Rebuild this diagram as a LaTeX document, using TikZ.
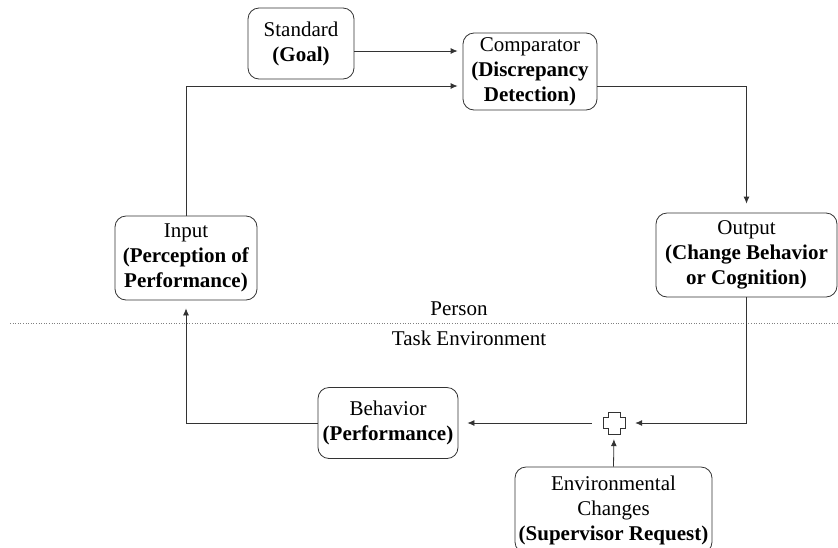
\documentclass[tikz,border=0pt]{standalone}
\usepackage{fontspec}
\setmainfont{Liberation Serif}
\usetikzlibrary{arrows.meta}

\begin{document}
\begin{tikzpicture}[x=1pt, y=-1pt,
    block/.style = {draw=black!80, line width=0.8pt, rounded corners=11pt, align=center, inner sep=1pt, font=\fontsize{21}{25}\selectfont},
    conn/.style = {draw=black!80, line width=0.8pt, -{Latex[length=7pt,width=6pt]}},
    lbl/.style = {font=\fontsize{21}{25}\selectfont}]
     \useasboundingbox (0,0) rectangle (838,547);

     \node[block, minimum width=106pt, minimum height=71pt] (standard) at (301,43.5) {Standard\\\textbf{(Goal)}};
     \node[block, minimum width=134pt, minimum height=77pt] (comparator) at (530,71.5) {Comparator\\\textbf{(Discrepancy}\\\textbf{Detection)}};
     \node[block, minimum width=142pt, minimum height=84pt] (input) at (186,258) {Input\\\textbf{(Perception of}\\\textbf{Performance)}};
     \node[block, minimum width=181pt, minimum height=84pt] (output) at (746.5,255) {Output\\\textbf{(Change Behavior}\\\textbf{or Cognition)}};
     \node[block, minimum width=140pt, minimum height=71pt] (behavior) at (388,423) {Behavior\\\textbf{(Performance)}};
     \node[block, minimum width=197pt, minimum height=86pt] (env) at (613.5,510) {Environmental\\Changes\\\textbf{(Supervisor Request)}};
     \node[minimum size=22pt, inner sep=0pt] (plus) at (614,423) {};
     \draw[draw=black!80, line width=0.8pt, shift={(plus.center)}] (-6,-11) -- (6,-11) -- (6,-5.5) -- (11,-5.5) -- (11,5.5) -- (6,5.5) -- (6,11) -- (-6,11) -- (-6,5.5) -- (-11,5.5) -- (-11,-5.5) -- (-6,-5.5) -- cycle;

     % person / task environment divider
     \coordinate (divl) at (10,323);
     \coordinate (divr) at (838,323);
     \draw[dotted, gray, line width=0.6pt] (divl) -- (divr);
     \node[lbl] (person) at (459,309) {Person};
     \node[lbl] (taskenv) at (469,338) {Task Environment};

     \coordinate (goalout) at ([yshift=-7.5pt]standard.east);
     \coordinate (cmpin) at ([yshift=-14.5pt]comparator.west);
     \coordinate (cmpout) at ([yshift=-14.5pt]comparator.east);

     \draw[conn, shorten >=5pt] (goalout) -- (goalout -| comparator.west);
     \draw[conn, shorten >=5pt] (input.north) |- (cmpin);
     \draw[conn, shorten >=9pt] (cmpout) -| (output.north);
     \draw[conn, shorten >=10pt] (output.south) |- (plus.east);
     \draw[conn, shorten >=5pt] (env.north) -- (plus.south);
     \draw[conn, shorten <=11pt, shorten >=9pt] (plus.west) -- (behavior.east);
     \draw[conn, shorten >=8pt] (behavior.west) -| (input.south);
\end{tikzpicture}
\end{document}
